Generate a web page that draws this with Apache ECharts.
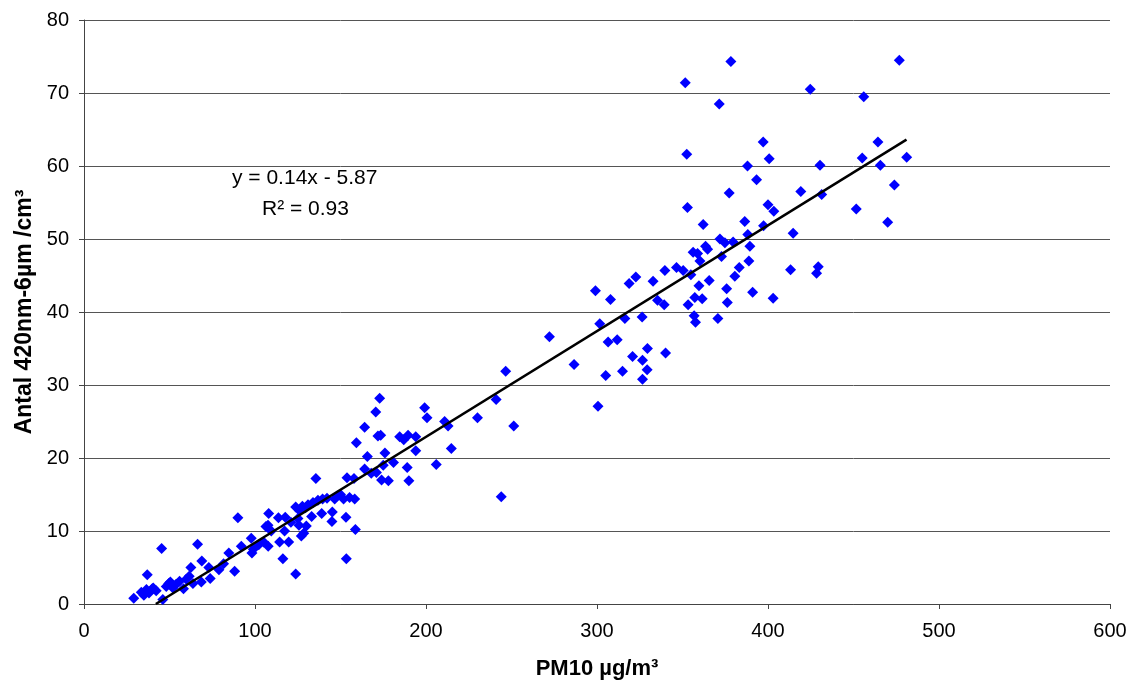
<!DOCTYPE html>
<html>
<head>
<meta charset="utf-8">
<script src="https://cdn.jsdelivr.net/npm/echarts@6/dist/echarts.min.js"></script>
<style>
  html, body { margin: 0; padding: 0; background: #fff; }
  #chart { width: 1128px; height: 686px; }
</style>
</head>
<body>
<div id="chart"></div>
<script>
// PM10 (x) and Antal 420nm-6µm (y)
const pm10 = [
  29.1, 33.5, 35, 36.5, 37, 38, 39.9, 40.5, 42.2, 45.4, 46.1, 48.1, 49.6, 50.5, 52, 53.9, 55.9, 58.2, 59.8, 61.5,
  62.5, 63.7, 66.4, 68.6, 68.9, 73, 73.8, 78.9, 81.6, 84.7, 88.1, 90, 92, 97.8, 98.2, 99, 102.2, 105, 106.4, 107.6,
  107.7, 108, 109.5, 113.7, 114.4, 116.3, 117.3, 117.7, 119.7, 121, 123.8, 123.8, 125.1, 125.7, 126, 127.1, 127.7, 128.5, 129.5, 130,
  131, 133.1, 133.9, 135.6, 136.8, 139, 139.5, 142.1, 145, 145.2, 146.6, 148, 150, 151.8, 153.2, 153.4, 153.8, 155.3, 157.9, 158.3,
  158.7, 159.3, 164.1, 164.1, 165.7, 168, 170.6, 171, 171.9, 172.9, 173.5, 174, 175, 176, 178, 181, 184.6, 187, 189, 189.5,
  190, 194, 194, 199.2, 200.6, 206, 210.9, 212.9, 214.8, 230.1, 241, 244, 246.6, 251.3, 272.2, 286.6, 299.1, 300.6, 301.6, 305.1,
  306.5, 307.9, 311.8, 314.9, 316.3, 318.8, 320.8, 322.7, 326.4, 326.6, 326.6, 329.3, 329.5, 332.8, 335.4, 339.3, 339.7, 340.1, 346.5, 350.4,
  351.6, 352.5, 352.9, 353.3, 354.9, 356.2, 356.8, 357.2, 357.6, 358.8, 359.6, 360.2, 361.5, 362.1, 363.5, 364.7, 365.6, 370.7, 371.5, 371.9,
  372.8, 374.8, 375.8, 376.2, 377.3, 378.3, 379.6, 380.6, 383.2, 386.4, 388, 388.2, 388.8, 389.4, 391, 393.3, 397.2, 397.4, 400, 400.7,
  403, 403.4, 413.2, 414.7, 419.2, 424.7, 428.4, 429.4, 430.4, 431.4, 451.6, 455.1, 456, 464.3, 465.7, 470, 473.9, 476.8, 481.1
];
const antal = [
  0.8, 1.6, 1.2, 2.0, 4.0, 1.5, 2.1, 2.2, 1.8, 7.6, 0.6, 2.4, 2.8, 3.0, 2.2, 2.7, 3.1, 2.1, 3.4, 3.8,
  5.0, 2.8, 8.2, 3.0, 5.9, 5.0, 3.5, 4.7, 5.5, 7.0, 4.5, 11.8, 7.9, 9.0, 7.0, 7.5, 8.1, 8.5, 10.6, 10.8,
  7.9, 12.4, 10.0, 11.8, 8.5, 6.2, 10.0, 11.9, 8.5, 11.2, 4.1, 13.3, 11.7, 10.8, 12.8, 9.3, 13.4, 9.7, 13.2, 10.7,
  13.6, 12.0, 13.9, 17.2, 14.2, 12.4, 14.4, 14.5, 11.3, 12.6, 14.4, 14.8, 15.0, 14.4, 11.9, 6.2, 17.3, 14.6, 17.2, 14.4,
  10.2, 22.1, 18.5, 24.2, 20.2, 17.9, 26.3, 18.0, 23.0, 28.2, 23.1, 17.0, 19.0, 20.7, 16.9, 19.4, 22.9, 22.5, 18.7, 23.1,
  16.9, 21.0, 22.9, 26.9, 25.5, 19.1, 25.0, 24.4, 21.3, 25.5, 28.0, 14.7, 31.9, 24.4, 36.6, 32.8, 42.9, 27.1, 38.4, 31.3,
  35.9, 41.7, 36.2, 31.9, 39.1, 43.9, 33.9, 44.8, 39.3, 30.8, 33.4, 32.1, 35.0, 44.2, 41.6, 41.0, 45.7, 34.4, 46.1, 45.7,
  71.4, 61.6, 54.3, 41.0, 45.1, 48.2, 39.5, 42.0, 38.6, 48.0, 43.6, 47.0, 41.8, 52.0, 49.0, 48.6, 44.3, 39.1, 68.5, 50.0,
  47.6, 49.5, 43.2, 41.3, 56.3, 74.3, 49.6, 44.9, 46.1, 52.4, 60.0, 50.6, 47.0, 49.0, 42.7, 58.1, 63.3, 51.8, 54.7, 61.0,
  41.9, 53.8, 45.8, 50.8, 56.5, 70.5, 45.3, 46.2, 60.1, 56.1, 54.1, 61.1, 69.5, 63.3, 60.1, 52.3, 57.4, 74.5, 61.2
];

// linear trendline as drawn on the chart
const trendSlope = 0.1449
const trendIntercept = -6.08
const trendFrom = 42
const trendTo = 481

const xMin = 0, xMax = 600, xStep = 100
const yMin = 0, yMax = 80, yStep = 10

const points = pm10.map((x, i) => [x, antal[i]])
const trend = [trendFrom, trendTo].map(x => [x, trendSlope * x + trendIntercept])

const font = 'Liberation Sans, Arial, sans-serif'

const chart = echarts.init(document.getElementById('chart'))
chart.setOption({
  animation: false,
  backgroundColor: '#fff',
  textStyle: { fontFamily: font },
  grid: {
    left: 84,
    right: 18,
    top: 20,
    bottom: 82,
    containLabel: false,
    outerBoundsMode: 'none'
  },
  xAxis: {
    type: 'value',
    min: xMin,
    max: xMax,
    interval: xStep,
    name: 'PM10 µg/m³',
    nameLocation: 'middle',
    nameGap: 54,
    nameTextStyle: { fontSize: 22, fontWeight: 'bold', color: '#000' },
    axisLine: { show: true, onZero: false, lineStyle: { color: '#444', width: 1 } },
    axisTick: { show: true, inside: false, length: 5, lineStyle: { color: '#444' } },
    axisLabel: { fontSize: 20, color: '#000', margin: 17 },
    splitLine: { show: false }
  },
  yAxis: {
    type: 'value',
    min: yMin,
    max: yMax,
    interval: yStep,
    name: 'Antal 420nm-6µm /cm³',
    nameLocation: 'middle',
    nameGap: 44,
    nameRotate: 90,
    nameTextStyle: { fontSize: 23, fontWeight: 'bold', color: '#000' },
    axisLine: { show: true, onZero: false, lineStyle: { color: '#444', width: 1 } },
    axisTick: { show: true, inside: false, length: 5, lineStyle: { color: '#444' } },
    axisLabel: { fontSize: 20, color: '#000', margin: 15 },
    splitLine: { show: true, lineStyle: { color: '#555', width: 1 } }
  },
  graphic: [
    {
      type: 'text',
      left: 232,
      top: 168,
      style: { text: 'y = 0.14x - 5.87', fontSize: 21, fill: '#000', fontFamily: font }
    },
    {
      type: 'text',
      left: 262,
      top: 199,
      style: { text: 'R² = 0.93', fontSize: 21, fill: '#000', fontFamily: font }
    }
  ],
  series: [
    {
      name: 'Antal',
      type: 'scatter',
      data: points,
      symbol: 'diamond',
      symbolSize: 11,
      itemStyle: { color: '#0000ff', opacity: 1 },
      z: 2
    },
    {
      name: 'Trend',
      type: 'line',
      data: trend,
      showSymbol: false,
      symbol: 'none',
      silent: true,
      lineStyle: { color: '#000', width: 2.5 },
      z: 3
    }
  ]
})
</script>
</body>
</html>
